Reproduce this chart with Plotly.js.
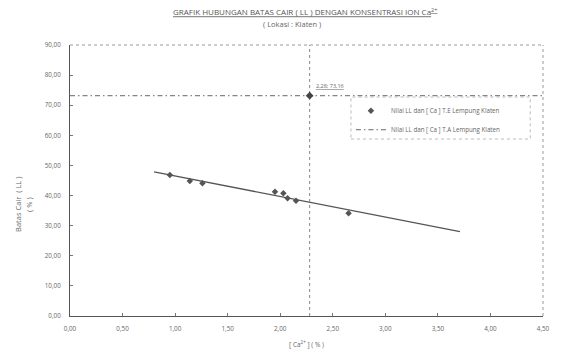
<!DOCTYPE html>
<html>
<head>
<meta charset="utf-8">
<script src="https://cdn.plot.ly/plotly-3.0.1.min.js"></script>
<style>html,body{margin:0;padding:0;background:#fff;}#chart{width:572px;height:359px;}</style>
</head>
<body>
<div id="chart"></div>
<script>
// Data
const caValues = [0.95, 1.14, 1.26, 1.95, 2.03, 2.07, 2.15, 2.65];
const llValues = [46.8, 44.8, 44.1, 41.3, 40.8, 39.1, 38.3, 34.1];
const trendX = [0.80, 3.71];
const trendY = [47.9, 28.0];
const targetCa = 2.28;
const targetLL = 73.16;
const xRange = [0, 4.5];
const yRange = [0, 90];
const xTickVals = [0, 0.5, 1, 1.5, 2, 2.5, 3, 3.5, 4, 4.5];
const xTickText = ["0,00", "0,50", "1,00", "1,50", "2,00", "2,50", "3,00", "3,50", "4,00", "4,50"];
const seriesNames = ["Nilai LL dan [ Ca ] T.E Lempung Klaten", "Nilai LL dan [ Ca ] T.A Lempung Klaten"];
const titleText = "GRAFIK HUBUNGAN BATAS CAIR ( LL ) DENGAN KONSENTRASI ION Ca<sup>2+</sup>";
const subtitleText = "( Lokasi : Klaten )";

const grey = '#666';
const font = "'Open Sans', 'Liberation Sans', sans-serif";

const traces = [
  {x: trendX, y: trendY, mode: 'lines', line: {color: '#555', width: 1.3}, showlegend: false, hoverinfo: 'skip'},
  {x: [targetCa, targetCa], y: yRange, mode: 'lines', line: {color: '#888', width: 1, dash: 'dot'}, showlegend: false, hoverinfo: 'skip'},
  {x: caValues, y: llValues, mode: 'markers', name: seriesNames[0],
   marker: {symbol: 'diamond', size: 5, color: '#555'}},
  {x: xRange, y: [targetLL, targetLL], mode: 'lines', name: seriesNames[1],
   line: {color: '#666', width: 1, dash: '5px,3px,1.5px,3px'}},
  {x: [targetCa], y: [targetLL], mode: 'markers', showlegend: false,
   marker: {symbol: 'diamond', size: 6, color: '#444'}}
];

const layout = {
  width: 572, height: 359,
  margin: {l: 70, r: 29, t: 45, b: 43},
  paper_bgcolor: '#fff', plot_bgcolor: '#fff',
  separators: ', ',
  font: {family: font, size: 6, color: grey},
  showlegend: true,
  legend: {x: 0.594, y: 0.811, xanchor: 'left', yanchor: 'top', bgcolor: 'rgba(0,0,0,0)',
           font: {size: 6.2, color: grey}, tracegroupgap: 0},
  xaxis: {range: xRange, tickmode: 'array', tickvals: xTickVals, ticktext: xTickText,
          showgrid: false, zeroline: false,
          showline: true, linecolor: '#555', linewidth: 1, ticks: 'inside', ticklen: 3, tickcolor: '#777',
          ticklabelstandoff: 6,
          tickfont: {size: 6.3, color: grey},
          title: {text: '[ Ca<sup>2+</sup> ] ( % )', font: {size: 6.5, color: grey}, standoff: 10}},
  yaxis: {range: yRange, dtick: 10, tickformat: '.2f', showgrid: false, zeroline: false,
          showline: true, linecolor: '#555', linewidth: 1, ticks: 'inside', ticklen: 3, tickcolor: '#777',
          ticklabelstandoff: 7,
          tickfont: {size: 6.3, color: grey}},
  shapes: [
    {type: 'line', xref: 'paper', yref: 'paper', x0: 0, x1: 1, y0: 1, y1: 1, line: {color: '#999', width: 1, dash: 'dot'}},
    {type: 'line', xref: 'paper', yref: 'paper', x0: 1, x1: 1, y0: 0, y1: 1, line: {color: '#999', width: 1, dash: 'dot'}},
    {type: 'rect', xref: 'paper', yref: 'paper', x0: 0.594, x1: 0.973, y0: 0.653, y1: 0.808, line: {color: '#aaa', width: 0.8, dash: 'dot'}}
  ],
  annotations: [
    {xref: 'paper', yref: 'paper', x: 0.497, y: 1, xanchor: 'center', yanchor: 'bottom', yshift: 26,
     text: '<u>' + titleText + '</u>', showarrow: false, font: {size: 8, color: '#555'}},
    {xref: 'paper', yref: 'paper', x: 0.47, y: 1, xanchor: 'center', yanchor: 'bottom', yshift: 14,
     text: subtitleText, showarrow: false, font: {size: 7.5, color: grey}},
    {x: targetCa, y: targetLL, xanchor: 'left', yanchor: 'bottom', xshift: 4, yshift: 4,
     text: '<u>2,28; 73,16</u>', showarrow: false, font: {size: 5.5, color: grey}},
    {xref: 'paper', yref: 'paper', x: 0, y: 0.41, xanchor: 'center', yanchor: 'middle', xshift: -52, textangle: -90,
     text: 'Batas Cair  ( LL )', showarrow: false, font: {size: 7.5, color: grey}},
    {xref: 'paper', yref: 'paper', x: 0, y: 0.41, xanchor: 'center', yanchor: 'middle', xshift: -41, textangle: -90,
     text: '( % )', showarrow: false, font: {size: 7.5, color: grey}}
  ]
};

Plotly.newPlot('chart', traces, layout, {displayModeBar: false, staticPlot: true});
</script>
</body>
</html>
